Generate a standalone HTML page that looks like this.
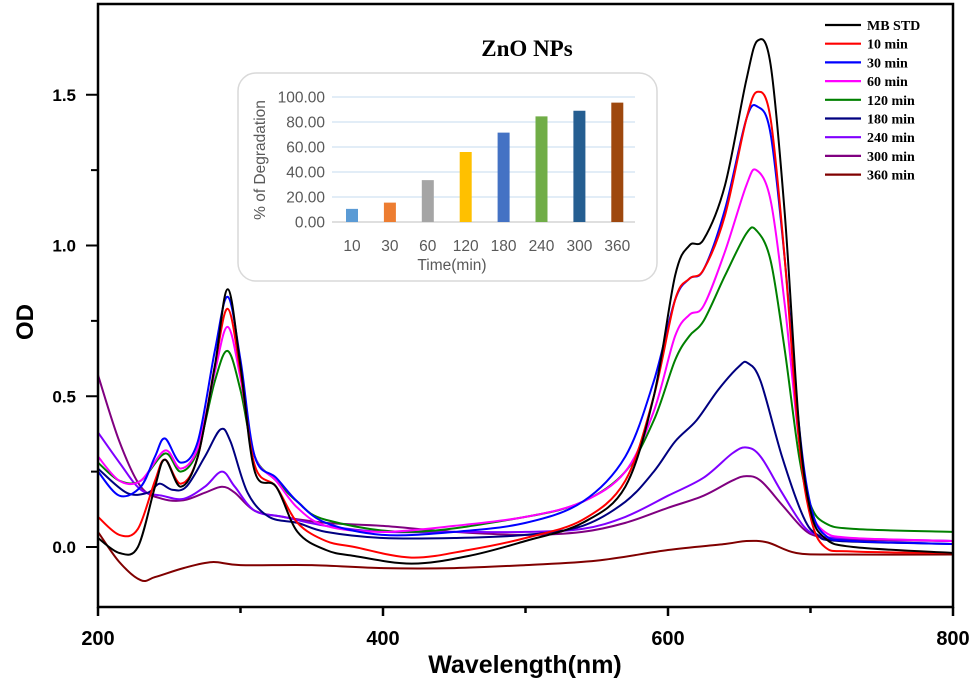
<!DOCTYPE html>
<html><head><meta charset="utf-8"><style>
body{margin:0;background:#fff;}
svg{display:block;font-family:"Liberation Sans",sans-serif;}
</style></head><body>
<svg id="chart" width="975" height="682" viewBox="0 0 975 682">
<g id="series"></g>
<rect x="98" y="4" width="855" height="603" fill="none" stroke="#000" stroke-width="2.5"/>
<g id="axes"></g>
<text x="527" y="56" text-anchor="middle" font-family="Liberation Serif,serif" font-weight="bold" font-size="23">ZnO NPs</text>
<text x="525" y="673" text-anchor="middle" font-weight="bold" font-size="25">Wavelength(nm)</text>
<text transform="translate(33,322) rotate(-90)" text-anchor="middle" font-weight="bold" font-size="24">OD</text>
<g id="legend"></g>
<g id="inset">
<rect x="238" y="73" width="419" height="208" rx="18" fill="#fff" stroke="#d9d9d9" stroke-width="1.5"/>
</g>
</svg>
<script>
const NS='http://www.w3.org/2000/svg';
const names=['MB STD','10 min','30 min','60 min','120 min','180 min','240 min','300 min','360 min'];
const colors=['#000000','#ff0000','#0000ff','#ff00ff','#008000','#000080','#8000ff','#800080','#800000'];
const sMB=[[200,0.03],[215,-0.02],[228,0.0],[240,0.2],[247,0.29],[258,0.2],[270,0.3],[282,0.6],[291,0.855],[300,0.6],[310,0.25],[325,0.2],[340,0.05],[360,-0.01],[380,-0.03],[420,-0.055],[460,-0.03],[500,0.02],[540,0.08],[570,0.2],[590,0.5],[605,0.9],[615,1.0],[625,1.02],[640,1.2],[655,1.55],[663,1.68],[672,1.6],[682,1.1],[692,0.4],[700,0.12],[710,0.03],[730,0.0],[800,-0.02]];
const s10=[[200,0.1],[215,0.04],[228,0.06],[240,0.22],[247,0.29],[258,0.21],[270,0.3],[282,0.6],[291,0.79],[300,0.58],[310,0.27],[325,0.2],[340,0.08],[360,0.02],[380,0.0],[420,-0.035],[460,-0.01],[500,0.03],[540,0.09],[570,0.22],[590,0.5],[605,0.82],[615,0.89],[625,0.92],[640,1.1],[655,1.42],[663,1.51],[672,1.42],[682,0.95],[692,0.35],[700,0.1],[710,0.0],[730,-0.015],[800,-0.02]];
const s30=[[200,0.25],[215,0.17],[230,0.2],[240,0.3],[247,0.36],[258,0.28],[270,0.35],[282,0.65],[291,0.83],[300,0.62],[310,0.3],[325,0.23],[340,0.15],[360,0.08],[400,0.04],[450,0.05],[500,0.08],[540,0.15],[570,0.3],[590,0.55],[605,0.82],[615,0.89],[625,0.92],[640,1.12],[655,1.42],[663,1.46],[672,1.37],[682,0.95],[692,0.4],[700,0.14],[710,0.04],[730,0.02],[800,0.01]];
const s60=[[200,0.3],[215,0.22],[230,0.22],[247,0.32],[258,0.26],[270,0.33],[282,0.58],[291,0.73],[300,0.56],[310,0.3],[325,0.22],[340,0.13],[360,0.07],[400,0.05],[450,0.07],[500,0.1],[540,0.15],[570,0.25],[590,0.45],[605,0.7],[615,0.77],[625,0.8],[640,0.98],[655,1.2],[662,1.25],[672,1.15],[682,0.8],[692,0.35],[700,0.13],[710,0.05],[730,0.03],[800,0.02]];
const s120=[[200,0.28],[215,0.22],[230,0.22],[247,0.31],[258,0.25],[270,0.32],[282,0.55],[291,0.65],[300,0.52],[310,0.3],[325,0.22],[340,0.15],[360,0.09],[420,0.05],[500,0.1],[540,0.15],[570,0.25],[590,0.42],[605,0.62],[615,0.7],[625,0.75],[640,0.9],[655,1.04],[662,1.05],[672,0.95],[682,0.65],[692,0.3],[700,0.14],[710,0.08],[730,0.06],[800,0.05]];
const s180=[[200,0.26],[220,0.18],[235,0.18],[243,0.21],[252,0.19],[262,0.2],[275,0.3],[286,0.39],[293,0.35],[305,0.18],[320,0.1],[340,0.08],[360,0.05],[400,0.03],[450,0.03],[500,0.04],[540,0.07],[570,0.15],[590,0.25],[605,0.35],[620,0.42],[635,0.52],[650,0.6],[656,0.61],[665,0.55],[680,0.3],[695,0.1],[705,0.04],[720,0.02],[800,0.01]];
const s240=[[200,0.38],[215,0.28],[230,0.19],[245,0.17],[260,0.16],[275,0.2],[287,0.25],[296,0.2],[310,0.12],[330,0.1],[360,0.07],[400,0.05],[450,0.05],[500,0.05],[540,0.06],[570,0.1],[600,0.17],[625,0.23],[645,0.31],[655,0.33],[665,0.3],[680,0.18],[695,0.07],[705,0.04],[720,0.03],[800,0.02]];
const s300=[[200,0.57],[215,0.35],[230,0.2],[245,0.16],[260,0.155],[275,0.18],[287,0.2],[296,0.18],[310,0.12],[330,0.1],[360,0.08],[400,0.07],[450,0.05],[500,0.04],[540,0.05],[570,0.08],[600,0.13],[625,0.17],[645,0.22],[655,0.235],[665,0.22],[680,0.14],[695,0.06],[705,0.035],[720,0.025],[800,0.02]];
const s360=[[200,0.05],[215,-0.05],[230,-0.11],[240,-0.1],[260,-0.07],[280,-0.05],[300,-0.06],[350,-0.06],[400,-0.07],[450,-0.07],[500,-0.06],[550,-0.045],[600,-0.01],[640,0.01],[655,0.02],[670,0.015],[690,-0.02],[720,-0.025],[800,-0.025]];
const allSeries=[sMB,s10,s30,s60,s120,s180,s240,s300,s360];
const xTicks=[200,300,400,500,600,700,800];
const xLabels=['200','400','600','800'];
const yTicks=[0,0.25,0.5,0.75,1.0,1.25,1.5];
const yLabels=['0.0','0.5','1.0','1.5'];
const insetCats=['10','30','60','120','180','240','300','360'];
const insetVals=[10.5,15.5,33.5,56,71.5,84.5,89,95.5];
const insetColors=['#5b9bd5','#ed7d31','#a5a5a5','#ffc000','#4472c4','#70ad47','#255e91','#9e480e'];
const insetTicks=['0.00','20.00','40.00','60.00','80.00','100.00'];

const X=w=>98+(w-200)*855/600;
const Y=v=>547-v*301.5;
function el(tag,attrs,parent,text){const e=document.createElementNS(NS,tag);for(const k in attrs)e.setAttribute(k,attrs[k]);if(text!==undefined)e.textContent=text;parent.appendChild(e);return e;}
function smooth(pts){
  const p=pts.map(d=>[X(d[0]),Y(d[1])]);let s='M'+p[0][0].toFixed(1)+','+p[0][1].toFixed(1);
  for(let i=0;i<p.length-1;i++){const p0=p[i-1]||p[i],p1=p[i],p2=p[i+1],p3=p[i+2]||p2;
    const c1=[p1[0]+(p2[0]-p0[0])/6,p1[1]+(p2[1]-p0[1])/6],c2=[p2[0]-(p3[0]-p1[0])/6,p2[1]-(p3[1]-p1[1])/6];
    s+='C'+c1.map(v=>v.toFixed(1))+' '+c2.map(v=>v.toFixed(1))+' '+p2.map(v=>v.toFixed(1));}
  return s;}
const sg=document.getElementById('series');
for(let i=allSeries.length-1;i>=0;i--){
  const pth=el('path',{d:smooth(allSeries[i]),fill:'none',stroke:colors[i],'stroke-width':2},sg);
  
  
}
const ax=document.getElementById('axes');
xTicks.forEach((t,i)=>{const l=el('line',{x1:X(t),x2:X(t),y1:607,y2:i%2===0?616:613,stroke:'#000','stroke-width':2.5},ax);
  });
xLabels.forEach(t=>{const tx=el('text',{x:X(+t),y:645,'text-anchor':'middle','font-weight':'bold','font-size':20},ax,t);
  });
yTicks.forEach((t,i)=>{const l=el('line',{x1:i%2===0?86:91,x2:98,y1:Y(t),y2:Y(t),stroke:'#000','stroke-width':2},ax);
  });
yLabels.forEach(t=>{const tx=el('text',{x:76,y:Y(+t)+6,'text-anchor':'end','font-weight':'bold','font-size':17},ax,t);
  });
const lg=document.getElementById('legend');
names.forEach((n,i)=>{const y=25+i*18.7;
  const l=el('line',{x1:825,x2:861,y1:y,y2:y,stroke:colors[i],'stroke-width':2.2},lg);
  
  const t=el('text',{x:867,y:y+5,'font-family':'Liberation Serif,serif','font-weight':'bold','font-size':14},lg,n);
  });
const ig=document.getElementById('inset');
const IY=v=>222-v*1.25, IX=i=>352+i*37.9;
insetTicks.forEach(t=>{const y=IY(+t);
  if(+t>0){const g=el('line',{x1:332,x2:635,y1:y,y2:y,stroke:'#c5dbef','stroke-width':1},ig);}
  const tx=el('text',{x:325,y:y+5.5,'text-anchor':'end','font-size':15.5,fill:'#595959'},ig,t);
  });
const ba=el('line',{x1:332,x2:635,y1:IY(0),y2:IY(0),stroke:'#bfbfbf','stroke-width':1},ig);

insetVals.forEach((v,i)=>{const r=el('rect',{x:IX(i)-6,y:IY(v),width:12,height:v*1.25,fill:insetColors[i]},ig);
  
  const t=el('text',{x:IX(i),y:251,'text-anchor':'middle','font-size':15.5,fill:'#595959'},ig,insetCats[i]);
  });
const ixt=el('text',{x:452,y:270,'text-anchor':'middle','font-size':15.5,fill:'#595959'},ig,'Time(min)');

const iyt=el('text',{transform:'translate(265,160) rotate(-90)','text-anchor':'middle','font-size':15.5,fill:'#595959'},ig,'% of Degradation');

</script>
</body></html>
